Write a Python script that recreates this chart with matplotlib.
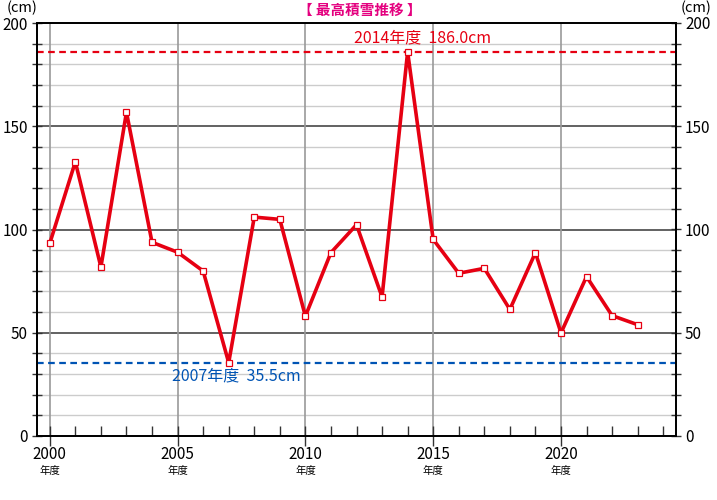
import matplotlib
matplotlib.use("Agg")
import matplotlib.pyplot as plt
from matplotlib.ticker import MultipleLocator

plt.rcParams['font.family'] = ['Noto Sans CJK JP', 'DejaVu Sans']

# 年度ごとの最高積雪 (cm)
years = list(range(2000, 2024))
snow_max = [93.3, 132.8, 81.8, 156.8, 93.8, 89.0, 79.9, 35.5, 106.0, 104.9,
            58.0, 88.8, 102.3, 67.3, 186.0, 95.2, 78.8, 81.2, 61.3, 88.8,
            49.9, 77.2, 58.3, 53.9]
max_label = "2014年度  186.0cm"
min_label = "2007年度  35.5cm"
max_value = 186.0
min_value = 35.5
title = "【 最高積雪推移 】"

RED = "#e60012"
BLUE = "#0054b4"

fig = plt.figure(figsize=(7.17, 5.0), dpi=100)
ax = fig.add_axes([37 / 717, 64 / 500, 639 / 717, 413 / 500])

ax.set_xlim(1999.5, 2024.5)
ax.set_ylim(0, 200)

# 横の補助線
for v in range(10, 200, 10):
    if v % 50 == 0:
        ax.axhline(v, color="#555555", lw=1.3, zorder=1)
    else:
        ax.axhline(v, color="#cccccc", lw=1.0, zorder=1)
for yr in range(2000, 2025, 5):
    ax.axvline(yr, color="#999999", lw=1.2, zorder=1)

ax.axhline(max_value, color=RED, lw=1.6, ls=(0, (3, 2)), zorder=2)
ax.axhline(min_value, color=BLUE, lw=1.6, ls=(0, (3, 2)), zorder=2)
ax.text(2011.9, max_value + 2.5, max_label, color=RED, fontsize=11.5,
        ha="left", va="bottom", zorder=4)
ax.text(2004.8, min_value - 2.5, min_label, color=BLUE, fontsize=11.5,
        ha="left", va="top", zorder=4)

ax.plot(years, snow_max, color=RED, lw=2.6, zorder=3, marker="s",
        markersize=4.2, markerfacecolor="white", markeredgecolor=RED,
        markeredgewidth=0.9)

# 目盛
ax.xaxis.set_major_locator(MultipleLocator(5))
ax.xaxis.set_minor_locator(MultipleLocator(1))
ax.set_xticks(range(2000, 2025, 5))
ax.set_xticklabels([f"{y}" for y in range(2000, 2025, 5)], fontsize=11)
ax.tick_params(axis="x", which="major", direction="inout", length=14,
               width=1, color="#333333", pad=0)
ax.tick_params(axis="x", which="minor", direction="in", length=7,
               width=1, color="#333333")
for yr in range(2000, 2025, 5):
    ax.text(yr, -16.8, "年度", fontsize=7.5, ha="center", va="center")

ax.yaxis.set_major_locator(MultipleLocator(50))
ax.yaxis.set_minor_locator(MultipleLocator(10))
ax.tick_params(axis="y", which="both", direction="inout", length=7,
               width=1, color="#333333", labelsize=11, left=True, right=True)
ax.tick_params(axis="y", which="major", pad=3)

ax2 = ax.twinx()
ax2.set_ylim(0, 200)
ax2.yaxis.set_major_locator(MultipleLocator(50))
ax2.yaxis.set_minor_locator(MultipleLocator(10))
ax2.tick_params(axis="y", which="both", direction="inout", length=7,
                width=1, color="#333333", labelsize=11, pad=3)

for a in (ax, ax2):
    for s in a.spines.values():
        s.set_color("black")
        s.set_linewidth(1.3)

fig.text(22 / 717, 1 - 8 / 500, "(cm)", fontsize=10.5, ha="center", va="center")
fig.text(696 / 717, 1 - 8 / 500, "(cm)", fontsize=10.5, ha="center", va="center")
fig.text(360 / 717, 1 - 10 / 500, title, fontsize=10.5, color="#e4007f",
         ha="center", va="center", fontweight="bold")

fig.savefig("out.png", dpi=100)
